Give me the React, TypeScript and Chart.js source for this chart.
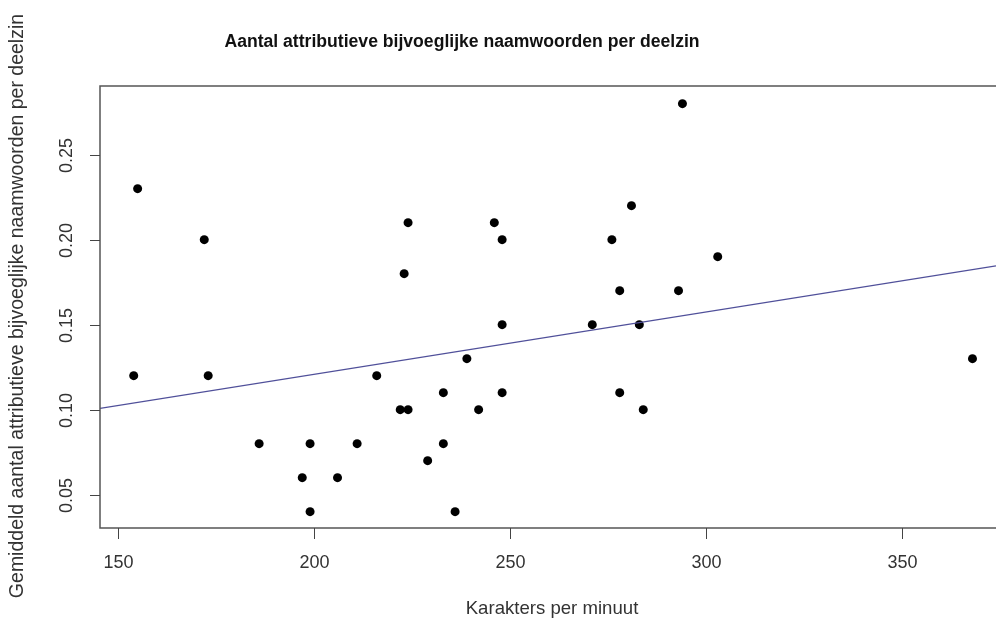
import React, { useEffect, useRef } from "react";
import { Chart, registerables } from "chart.js";

Chart.register(...registerables);

// Data
const karaktersPerMinuut = [
  155, 172, 224, 223, 246, 248, 248, 294, 281, 276, 303, 278, 293, 271, 283,
  154, 173, 239, 216, 233, 248, 222, 224, 242, 186, 199, 211, 233, 229, 197,
  206, 199, 236, 278, 284, 368,
];
const gemiddeldAantal = [
  0.23, 0.2, 0.21, 0.18, 0.21, 0.2, 0.15, 0.28, 0.22, 0.2, 0.19, 0.17, 0.17, 0.15, 0.15,
  0.12, 0.12, 0.13, 0.12, 0.11, 0.11, 0.1, 0.1, 0.1, 0.08, 0.08, 0.08, 0.08, 0.07, 0.06,
  0.06, 0.04, 0.04, 0.11, 0.1, 0.13,
];
const xTicks = [150, 200, 250, 300, 350];
const yTicks = [0.05, 0.1, 0.15, 0.2, 0.25];
const yTickLabels = ["0.05", "0.10", "0.15", "0.20", "0.25"];
const xRange = [145.4, 374];
const yRange = [0.0304, 0.2904];

const title = "Aantal attributieve bijvoeglijke naamwoorden per deelzin";
const xTitle = "Karakters per minuut";
const yTitle = "Gemiddeld aantal attributieve bijvoeglijke naamwoorden per deelzin";

const FONT = '"Liberation Sans", Arial, sans-serif';

function fit(xs: number[], ys: number[]) {
  const n = xs.length;
  const mx = xs.reduce((a, b) => a + b, 0) / n;
  const my = ys.reduce((a, b) => a + b, 0) / n;
  let sxy = 0;
  let sxx = 0;
  for (let i = 0; i < n; i++) {
    sxy += (xs[i] - mx) * (ys[i] - my);
    sxx += (xs[i] - mx) * (xs[i] - mx);
  }
  const slope = sxy / sxx;
  return { slope, intercept: my - slope * mx };
}

const axesPlugin = {
  id: "rAxes",
  afterDraw(chart: any) {
    const ctx = chart.ctx;
    const xs = chart.scales.x;
    const ys = chart.scales.y;
    const area = chart.chartArea;
    ctx.save();
    // box (right side cropped)
    ctx.strokeStyle = "#555";
    ctx.lineWidth = 1.5;
    ctx.beginPath();
    ctx.moveTo(chart.width + 2, area.top);
    ctx.lineTo(area.left, area.top);
    ctx.lineTo(area.left, area.bottom);
    ctx.lineTo(chart.width + 2, area.bottom);
    ctx.stroke();

    // x ticks
    ctx.lineWidth = 1;
    ctx.strokeStyle = "#444";
    ctx.fillStyle = "#333";
    ctx.font = `18px ${FONT}`;
    ctx.textAlign = "center";
    ctx.textBaseline = "middle";
    xTicks.forEach((v) => {
      const px = Math.round(xs.getPixelForValue(v)) + 0.5;
      ctx.beginPath();
      ctx.moveTo(px, area.bottom);
      ctx.lineTo(px, area.bottom + 11);
      ctx.stroke();
      ctx.fillText(String(v), px, area.bottom + 35);
    });
    // y ticks
    yTicks.forEach((v, i) => {
      const py = Math.round(ys.getPixelForValue(v)) + 0.5;
      ctx.beginPath();
      ctx.moveTo(area.left, py);
      ctx.lineTo(area.left - 10, py);
      ctx.stroke();
      ctx.save();
      ctx.translate(area.left - 33, py);
      ctx.rotate(-Math.PI / 2);
      ctx.fillText(yTickLabels[i], 0, 0);
      ctx.restore();
    });

    // titles
    ctx.fillStyle = "#111";
    ctx.font = `bold 17.6px ${FONT}`;
    ctx.fillText(title, 462, 42);

    ctx.fillStyle = "#333";
    ctx.font = `18.6px ${FONT}`;
    ctx.fillText(xTitle, 552, 609);

    ctx.save();
    ctx.translate(18, 306);
    ctx.rotate(-Math.PI / 2);
    ctx.font = `19.5px ${FONT}`;
    ctx.fillText(yTitle, 0, 0);
    ctx.restore();
    ctx.restore();
  },
};

export default function App() {
  const ref = useRef<HTMLCanvasElement | null>(null);
  useEffect(() => {
    if (!ref.current) return;
    const { slope, intercept } = fit(karaktersPerMinuut, gemiddeldAantal);
    const points = karaktersPerMinuut.map((x, i) => ({ x, y: gemiddeldAantal[i] }));
    const line = xRange.map((x) => ({ x, y: intercept + slope * x }));
    const chart = new Chart(ref.current, {
      type: "scatter",
      data: {
        datasets: [
          {
            type: "line",
            data: line,
            borderColor: "#50509a",
            borderWidth: 1.3,
            pointRadius: 0,
            fill: false,
            order: 0,
          } as any,
          {
            data: points,
            backgroundColor: "#000",
            borderColor: "#000",
            pointRadius: 4.5,
            pointBorderWidth: 0,
            order: 1,
          },
        ],
      },
      options: {
        responsive: false,
        animation: false,
        layout: { autoPadding: false, padding: { left: 100, top: 86, right: 0, bottom: 94 } },
        plugins: { legend: { display: false }, tooltip: { enabled: false } },
        scales: {
          x: { type: "linear", min: xRange[0], max: xRange[1], display: false },
          y: { type: "linear", min: yRange[0], max: yRange[1], display: false },
        },
      },
      plugins: [axesPlugin],
    });
    return () => chart.destroy();
  }, []);
  return (
    <div style={{ position: "absolute", left: 0, top: 0, width: 996, height: 622, background: "#fff" }}>
      <canvas ref={ref} width={996} height={622} style={{ width: 996, height: 622, display: "block" }} />
    </div>
  );
}
